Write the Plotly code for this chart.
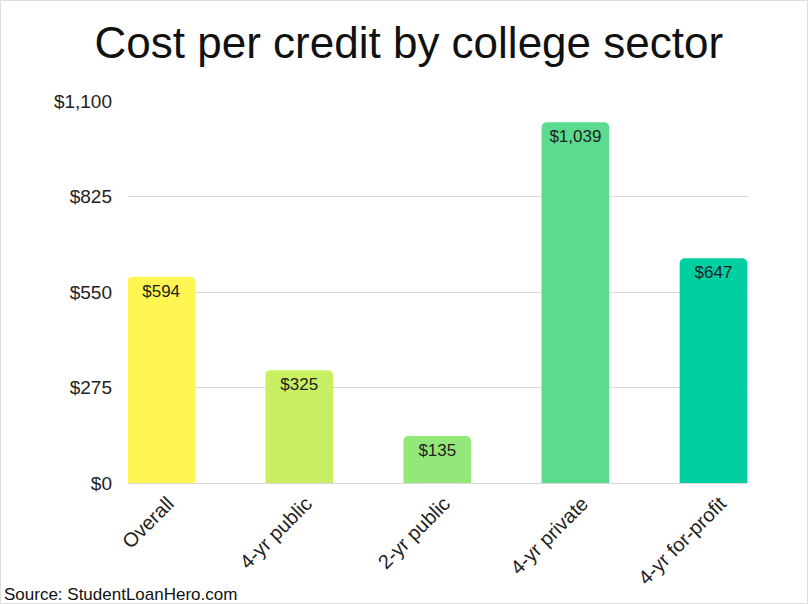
import plotly.graph_objects as go

# ── Data ──────────────────────────────────────────────────────────────────────
sectors = ["Overall", "4-yr public", "2-yr public", "4-yr private", "4-yr for-profit"]
cost_per_credit = [594, 325, 135, 1039, 647]
bar_colors = ["#FFF652", "#C9F062", "#94E87A", "#5BDB8E", "#00CFA2"]
y_ticks = [0, 275, 550, 825, 1100]
y_tick_labels = ["$0", "$275", "$550", "$825", "$1,100"]

FONT = "Liberation Sans, Arial, sans-serif"
TEXT = "#222222"
GRID = "#D9D9D9"

fig = go.Figure(go.Bar(
    x=sectors,
    y=cost_per_credit,
    marker=dict(color=bar_colors, cornerradius=5, line=dict(width=0)),
    text=[f"${v:,}" for v in cost_per_credit],
    textposition="inside",
    insidetextanchor="end",
    textangle=0,
    textfont=dict(family=FONT, size=17, color=TEXT),
    hovertemplate="%{x}: %{text}<extra></extra>",
))

fig.update_layout(
    title=dict(
        text="Cost per credit by college sector",
        x=0.506, xref="container", xanchor="center",
        y=0.93, yref="container", yanchor="middle",
        font=dict(family=FONT, size=44, color="#111111"),
    ),
    width=808, height=604,
    plot_bgcolor="white", paper_bgcolor="white",
    font=dict(family=FONT, color=TEXT),
    showlegend=False,
    bargap=0.51,
    margin=dict(l=128, r=60, t=101, b=121),
    xaxis=dict(
        range=[-0.24, 4.25],
        tickangle=-45,
        tickfont=dict(family=FONT, size=20, color=TEXT),
        ticklabelshift=7,
        showgrid=False,
        showline=True, linecolor=GRID, linewidth=1,
        ticks="",
    ),
    yaxis=dict(
        range=[0, 1100],
        tickvals=y_ticks,
        ticktext=y_tick_labels,
        tickfont=dict(family=FONT, size=19, color=TEXT),
        showgrid=True, gridcolor=GRID, gridwidth=1,
        zeroline=False,
        ticks="", ticklen=0,
        ticklabelstandoff=15,
    ),
)

fig.add_annotation(
    text="Source: StudentLoanHero.com",
    xref="paper", yref="paper",
    x=-126 / 620, y=-111 / 382, xanchor="left", yanchor="middle",
    showarrow=False,
    font=dict(family=FONT, size=17, color="#111111"),
)

# thin frame round the whole image
fig.add_shape(
    type="rect", xref="paper", yref="paper",
    x0=-127.5 / 620, x1=679.5 / 620, y0=-120.5 / 382, y1=(382 + 100.5) / 382,
    line=dict(color="#DDDDDD", width=1), fillcolor="rgba(0,0,0,0)",
    layer="below",
)

fig.write_html("out.html", config={"displayModeBar": False},
               post_script="document.body.style.margin='0';")
